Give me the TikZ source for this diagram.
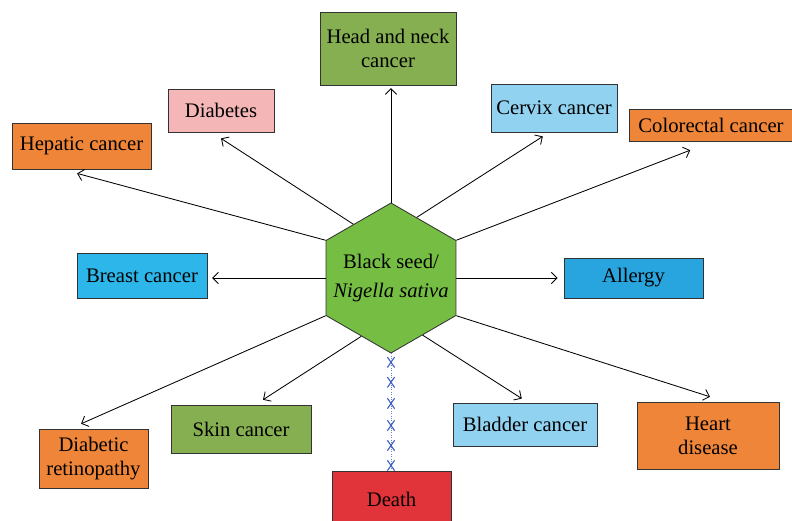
\documentclass[tikz,border=0pt]{standalone}
\usepackage{fontspec}
\setmainfont{Liberation Serif}
\usetikzlibrary{calc,arrows.meta,shapes.geometric}
\definecolor{seedgreen}{HTML}{76BE43}
\definecolor{mossgreen}{HTML}{85AF50}
\definecolor{sugarpink}{HTML}{F4B6B7}
\definecolor{tumororange}{HTML}{EF8538}
\definecolor{paleblue}{HTML}{92D2F1}
\definecolor{breastblue}{HTML}{2DB6E9}
\definecolor{allergyblue}{HTML}{28A5DE}
\definecolor{deathred}{HTML}{E1343A}
\definecolor{crossblue}{HTML}{4262C2}

\begin{document}
\begin{tikzpicture}[
		box/.style={draw=black!80, line width=0.6pt, inner sep=0pt, align=center,
			font=\fontsize{14.7}{17}\selectfont},
		hexa/.style={regular polygon, regular polygon sides=6, regular polygon rotate=30,
			minimum size=3.75cm, draw=black!80, line width=0.6pt, inner sep=0pt},
		hexlabel/.style={inner sep=0pt, align=center, font=\fontsize{14.7}{20}\selectfont},
		arr/.style={-{Straight Barb[length=4pt,width=8pt]}, line width=0.6pt},
		deathline/.style={crossblue!80, densely dotted, line width=0.7pt},
		crossmark/.style={crossblue, line width=0.8pt}
	]
		%%%%% START %%%%%
		\useasboundingbox (0,0) rectangle (19.8,13.025);
		
		\node[hexa, fill=seedgreen] (hex) at (9.775, 6.075) {};
		\node[hexlabel] (seed) at (hex.center) {Black seed/\\\textit{Nigella sativa}};
		
		\node[box, fill=mossgreen, minimum width=3.4cm, minimum height=1.825cm] (head) at (9.7, 11.8125) {Head and neck\\cancer};
		\node[box, fill=sugarpink, minimum width=2.65cm, minimum height=1.075cm] (diab) at (5.525, 10.2625) {Diabetes};
		\node[box, fill=tumororange, minimum width=3.475cm, minimum height=1.15cm] (hep) at (2.0375, 9.375) {Hepatic cancer};
		\node[box, fill=paleblue, minimum width=3.15cm, minimum height=1.2cm] (cerv) at (13.85, 10.325) {Cervix cancer};
		\node[box, fill=tumororange, minimum width=4.1cm, minimum height=0.8cm] (colo) at (17.775, 9.9) {Colorectal cancer};
		
		\node[box, fill=breastblue, minimum width=3.25cm, minimum height=1.125cm] (breast) at (3.55, 6.1375) {Breast cancer};
		\node[box, fill=allergyblue, minimum width=3.475cm, minimum height=1.0cm] (allergy) at (15.8375, 6.075) {Allergy};
		
		\node[box, fill=tumororange, minimum width=2.725cm, minimum height=1.475cm] (retino) at (2.3375, 1.5625) {Diabetic\\retinopathy};
		\node[box, fill=mossgreen, minimum width=3.5cm, minimum height=1.2cm] (skin) at (6.025, 2.3) {Skin cancer};
		\node[box, fill=deathred, minimum width=2.975cm, minimum height=1.4cm] (death) at (9.7875, 0.55) {Death};
		\node[box, fill=paleblue, minimum width=3.6cm, minimum height=1.075cm] (blad) at (13.125, 2.4125) {Bladder cancer};
		\node[box, fill=tumororange, minimum width=3.55cm, minimum height=1.675cm] (heart) at (17.7, 2.1375) {Heart\\disease};
		
		% arrows out of the hexagon
		\draw[arr] (hex.corner 1) -- ($(hex.corner 1 |- head.south)+(0,-0.07)$);
		\draw[arr] (hex.125) -- ($(diab.south)+(0,-0.15)$);
		\draw[arr] (hex.corner 2) -- ($(hep.south)+(-0.11,-0.1)$);
		\draw[arr] (hex.67) -- ($(cerv.south)+(-0.28,-0.1)$);
		\draw[arr] (hex.corner 6) -- ($(colo.south)+(-0.52,-0.22)$);
		\draw[arr] (hex.west) -- ($(hex.west -| breast.east)+(0.12,0)$);
		\draw[arr] (hex.east) -- ($(hex.east -| allergy.west)+(-0.15,0)$);
		\draw[arr] (hex.corner 3) -- ($(retino.north)+(-0.31,0.12)$);
		\draw[arr] (hex.243) -- ($(skin.north)+(0.55,0.12)$);
		\draw[arr] (hex.299) -- ($(blad.north)+(-0.08,0.1)$);
		\draw[arr] (hex.corner 5) -- ($(heart.north)+(0.05,0.12)$);
		
		% crossed line down to death
		\draw[deathline] (hex.corner 4) -- (hex.corner 4 |- death.north);
		\foreach \d in {0.22, 0.72, 1.25, 1.8, 2.3, 2.8}
			\draw[crossmark] ($(hex.corner 4)+(0,-\d)$) ++(-0.09,0.13) -- ++(0.18,-0.26) ++(-0.18,0) -- ++(0.18,0.26);
		
		%%%%% END %%%%%
	\end{tikzpicture}
\end{document}
